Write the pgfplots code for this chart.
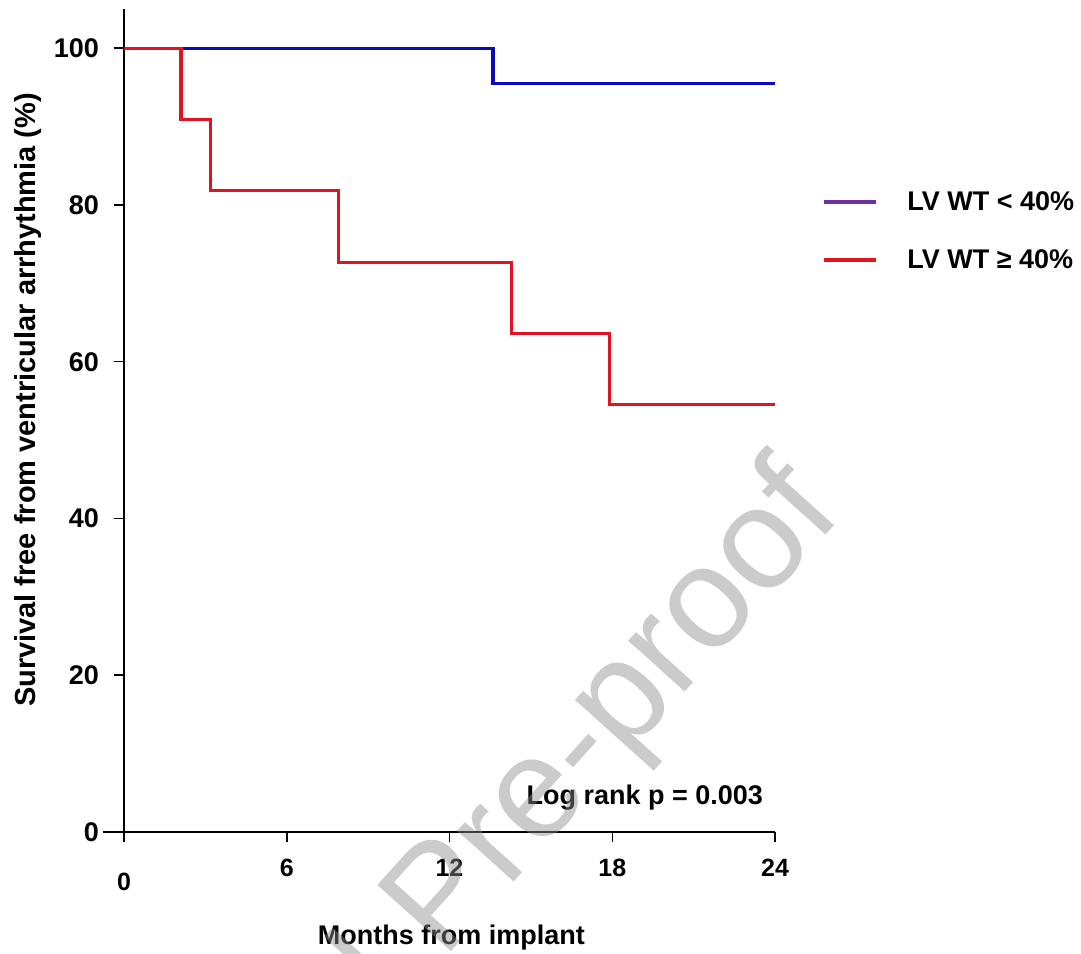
\documentclass[border=0pt]{standalone}
\usepackage{fontspec}
\setmainfont{Liberation Sans}
\usepackage{pgfplots}
\pgfplotsset{compat=1.18}

\definecolor{kmblue}{HTML}{0A0AC0}
\definecolor{kmred}{HTML}{E0141E}
\definecolor{legpurple}{HTML}{7030A0}

\begin{document}
\begin{tikzpicture}
\useasboundingbox (-62pt,-60.5pt) rectangle (478.5pt,416pt);
\begin{axis}[
    scale only axis,
    width=325.5pt, height=411.5pt,
    xmin=0, xmax=24, ymin=0, ymax=105,
    axis x line=bottom, axis y line=left,
    axis line style={-, line width=0.75pt},
    tick align=outside,
    major tick length=5pt,
    tick style={black, line width=0.75pt},
    xtick={0,6,12,18,24},
    xticklabels={\raisebox{-7pt}[\height]{0},6,12,18,24},
    ytick={0,20,40,60,80,100},
    /pgf/number format/assume math mode=true,
    xticklabel style={font=\bfseries\fontsize{12.5}{14}\selectfont, yshift=-5pt},
    yticklabel style={font=\bfseries\fontsize{13.5}{15}\selectfont, xshift=-4pt},
    xlabel={Months from implant},
    ylabel={Survival free from ventricular arrhythmia (\%)},
    xlabel style={font=\bfseries\fontsize{13.5}{15}\selectfont,
        at={(axis description cs:0.503,-0.128)}, anchor=center},
    ylabel style={font=\bfseries\fontsize{14.5}{16}\selectfont,
        at={(axis description cs:-0.148,0.525)}, anchor=center},
    clip=false,
    legend style={draw=none, fill=none, inner sep=0pt,
        at={(axis description cs:1.072,0.73)}, anchor=west,
        font=\bfseries\fontsize{13.5}{15}\selectfont,
        row sep=14pt,
        /tikz/every odd column/.append style={column sep=12.5pt}},
    legend cell align=left,
    legend image code/.code={\draw[#1] (0pt,0pt) -- (26pt,0pt);},
]
\addplot[const plot, color=kmblue, line width=1.6pt, forget plot] coordinates {
    (0,100) (13.6,95.5) (24,95.5)
};
\addplot[const plot, color=kmred, line width=1.6pt, forget plot] coordinates {
    (0,100) (2.1,90.9) (3.2,81.8) (7.9,72.7) (14.3,63.6) (17.9,54.5) (24,54.5)
};
\addlegendimage{legpurple, line width=2pt}
\addlegendentry{LV WT < 40\%}
\addlegendimage{kmred, line width=2pt}
\addlegendentry{LV WT ≥ 40\%}
\draw[line width=0.75pt] (axis cs:-0.78,0) -- (axis cs:0,0);
\node[font=\bfseries\fontsize{13.5}{15}\selectfont] at (axis cs:19.2,4.4) {Log rank p = 0.003};
\end{axis}
\node[rotate=48, font=\fontsize{72}{80}\selectfont, text=gray!90, opacity=0.45]
    at (160.5pt,-35.5pt) {Journal Pre-proof};
\end{tikzpicture}
\end{document}
